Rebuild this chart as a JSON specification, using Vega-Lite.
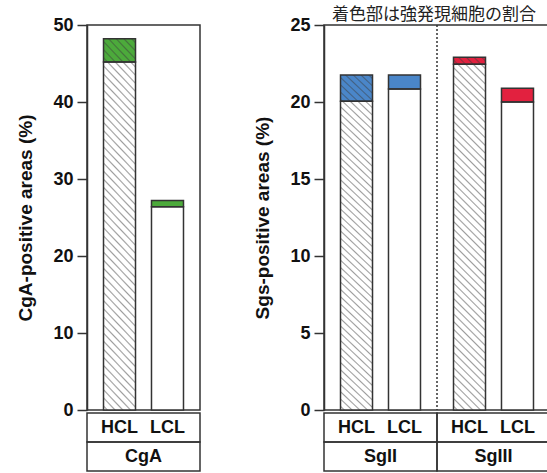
{
  "$schema": "https://vega.github.io/schema/vega-lite/v6.json",
  "background": "white",
  "padding": {"left": 16, "top": 6, "right": 0, "bottom": 0},
  "title": {"text": "着色部は強発現細胞の割合", "font": "Noto Sans CJK JP", "fontSize": 17, "fontWeight": "normal", "color": "#222", "anchor": "start", "frame": "group", "dx": 245, "offset": -9},
  "datasets": {
    "bars": [
      {"group": "CgA", "cl": "HCL", "base": 45.2, "total": 48.2},
      {"group": "CgA", "cl": "LCL", "base": 26.4, "total": 27.2},
      {"group": "SgII", "cl": "HCL", "base": 20.05, "total": 21.75},
      {"group": "SgII", "cl": "LCL", "base": 20.85, "total": 21.75},
      {"group": "SgIII", "cl": "HCL", "base": 22.45, "total": 22.9},
      {"group": "SgIII", "cl": "LCL", "base": 20.0, "total": 20.9}
    ],
    "cells": [
      {"group": "CgA", "row": "r1"}, {"group": "CgA", "row": "r2"},
      {"group": "SgII", "row": "r1"}, {"group": "SgII", "row": "r2"},
      {"group": "SgIII", "row": "r1"}, {"group": "SgIII", "row": "r2"}
    ],
    "lab1": [
      {"group": "CgA", "cl": "HCL", "row": "r1"}, {"group": "CgA", "cl": "LCL", "row": "r1"},
      {"group": "SgII", "cl": "HCL", "row": "r1"}, {"group": "SgII", "cl": "LCL", "row": "r1"},
      {"group": "SgIII", "cl": "HCL", "row": "r1"}, {"group": "SgIII", "cl": "LCL", "row": "r1"}
    ]
  },
  "config": {
    "font": "Liberation Sans",
    "view": {"stroke": "#333", "strokeWidth": 1.5},
    "axisY": {"grid": false, "tickSize": 10, "tickWidth": 1.5, "tickColor": "#333", "domainColor": "#333", "domainWidth": 1.5, "labelFont": "Liberation Sans", "labelFontSize": 18, "labelFontWeight": "bold", "labelColor": "#111", "labelPadding": 4, "titleFont": "Liberation Sans", "titleFontSize": 19, "titleFontWeight": "bold", "titleColor": "#111", "titlePadding": 17}
  },
  "spacing": 52,
  "hconcat": [
    {
      "spacing": 3,
      "bounds": "flush",
      "vconcat": [
        {
          "width": 113, "height": 385,
          "data": {"name": "bars"},
          "transform": [{"filter": "datum.group === 'CgA'"}],
          "layer": [
            {"mark": {"type": "bar", "fill": "white", "strokeWidth": 0},
             "encoding": {
               "x": {"field": "group", "type": "nominal", "axis": null, "scale": {"paddingInner": 0, "paddingOuter": 0}},
               "xOffset": {"field": "cl", "type": "nominal", "scale": {"domain": ["HCL", "LCL"], "paddingInner": 0.333, "paddingOuter": 0.344}},
               "y": {"field": "base", "type": "quantitative", "stack": null, "scale": {"domain": [0, 50], "nice": false}, "axis": {"values": [0, 10, 20, 30, 40, 50]}, "title": "CgA-positive areas (%)"}}},
            {"mark": {"type": "bar", "strokeWidth": 0},
             "encoding": {
               "x": {"field": "group", "type": "nominal", "axis": null, "scale": {"paddingInner": 0, "paddingOuter": 0}},
               "xOffset": {"field": "cl", "type": "nominal", "scale": {"domain": ["HCL", "LCL"], "paddingInner": 0.333, "paddingOuter": 0.344}},
               "y": {"field": "base", "type": "quantitative", "title": "CgA-positive areas (%)"},
               "y2": {"field": "total"},
               "fill": {"field": "group", "type": "nominal", "scale": {"domain": ["CgA", "SgII", "SgIII"], "range": ["#4caa3b", "#4a86c9", "#e2213f"]}, "legend": null}}},
            {"transform": [{"filter": "datum.cl === 'HCL'"}],
             "mark": {"type": "bar", "strokeWidth": 0, "fill": {"gradient": "linear", "x1": 0, "y1": 1, "x2": 0.098, "y2": -0.082, "stops": [
{"offset":0.006,"color":"rgba(60,60,60,0)"},{"offset":0.01,"color":"rgba(60,60,60,0.5)"},{"offset":0.014,"color":"rgba(60,60,60,0)"},
{"offset":0.026,"color":"rgba(60,60,60,0)"},{"offset":0.03,"color":"rgba(60,60,60,0.5)"},{"offset":0.034,"color":"rgba(60,60,60,0)"},
{"offset":0.046,"color":"rgba(60,60,60,0)"},{"offset":0.05,"color":"rgba(60,60,60,0.5)"},{"offset":0.054,"color":"rgba(60,60,60,0)"},
{"offset":0.066,"color":"rgba(60,60,60,0)"},{"offset":0.07,"color":"rgba(60,60,60,0.5)"},{"offset":0.074,"color":"rgba(60,60,60,0)"},
{"offset":0.086,"color":"rgba(60,60,60,0)"},{"offset":0.09,"color":"rgba(60,60,60,0.5)"},{"offset":0.094,"color":"rgba(60,60,60,0)"},
{"offset":0.106,"color":"rgba(60,60,60,0)"},{"offset":0.11,"color":"rgba(60,60,60,0.5)"},{"offset":0.114,"color":"rgba(60,60,60,0)"},
{"offset":0.126,"color":"rgba(60,60,60,0)"},{"offset":0.13,"color":"rgba(60,60,60,0.5)"},{"offset":0.134,"color":"rgba(60,60,60,0)"},
{"offset":0.146,"color":"rgba(60,60,60,0)"},{"offset":0.15,"color":"rgba(60,60,60,0.5)"},{"offset":0.154,"color":"rgba(60,60,60,0)"},
{"offset":0.166,"color":"rgba(60,60,60,0)"},{"offset":0.17,"color":"rgba(60,60,60,0.5)"},{"offset":0.174,"color":"rgba(60,60,60,0)"},
{"offset":0.186,"color":"rgba(60,60,60,0)"},{"offset":0.19,"color":"rgba(60,60,60,0.5)"},{"offset":0.194,"color":"rgba(60,60,60,0)"},
{"offset":0.206,"color":"rgba(60,60,60,0)"},{"offset":0.21,"color":"rgba(60,60,60,0.5)"},{"offset":0.214,"color":"rgba(60,60,60,0)"},
{"offset":0.226,"color":"rgba(60,60,60,0)"},{"offset":0.23,"color":"rgba(60,60,60,0.5)"},{"offset":0.234,"color":"rgba(60,60,60,0)"},
{"offset":0.246,"color":"rgba(60,60,60,0)"},{"offset":0.25,"color":"rgba(60,60,60,0.5)"},{"offset":0.254,"color":"rgba(60,60,60,0)"},
{"offset":0.266,"color":"rgba(60,60,60,0)"},{"offset":0.27,"color":"rgba(60,60,60,0.5)"},{"offset":0.274,"color":"rgba(60,60,60,0)"},
{"offset":0.286,"color":"rgba(60,60,60,0)"},{"offset":0.29,"color":"rgba(60,60,60,0.5)"},{"offset":0.294,"color":"rgba(60,60,60,0)"},
{"offset":0.306,"color":"rgba(60,60,60,0)"},{"offset":0.31,"color":"rgba(60,60,60,0.5)"},{"offset":0.314,"color":"rgba(60,60,60,0)"},
{"offset":0.326,"color":"rgba(60,60,60,0)"},{"offset":0.33,"color":"rgba(60,60,60,0.5)"},{"offset":0.334,"color":"rgba(60,60,60,0)"},
{"offset":0.346,"color":"rgba(60,60,60,0)"},{"offset":0.35,"color":"rgba(60,60,60,0.5)"},{"offset":0.354,"color":"rgba(60,60,60,0)"},
{"offset":0.366,"color":"rgba(60,60,60,0)"},{"offset":0.37,"color":"rgba(60,60,60,0.5)"},{"offset":0.374,"color":"rgba(60,60,60,0)"},
{"offset":0.386,"color":"rgba(60,60,60,0)"},{"offset":0.39,"color":"rgba(60,60,60,0.5)"},{"offset":0.394,"color":"rgba(60,60,60,0)"},
{"offset":0.406,"color":"rgba(60,60,60,0)"},{"offset":0.41,"color":"rgba(60,60,60,0.5)"},{"offset":0.414,"color":"rgba(60,60,60,0)"},
{"offset":0.426,"color":"rgba(60,60,60,0)"},{"offset":0.43,"color":"rgba(60,60,60,0.5)"},{"offset":0.434,"color":"rgba(60,60,60,0)"},
{"offset":0.446,"color":"rgba(60,60,60,0)"},{"offset":0.45,"color":"rgba(60,60,60,0.5)"},{"offset":0.454,"color":"rgba(60,60,60,0)"},
{"offset":0.466,"color":"rgba(60,60,60,0)"},{"offset":0.47,"color":"rgba(60,60,60,0.5)"},{"offset":0.474,"color":"rgba(60,60,60,0)"},
{"offset":0.486,"color":"rgba(60,60,60,0)"},{"offset":0.49,"color":"rgba(60,60,60,0.5)"},{"offset":0.494,"color":"rgba(60,60,60,0)"},
{"offset":0.506,"color":"rgba(60,60,60,0)"},{"offset":0.51,"color":"rgba(60,60,60,0.5)"},{"offset":0.514,"color":"rgba(60,60,60,0)"},
{"offset":0.526,"color":"rgba(60,60,60,0)"},{"offset":0.53,"color":"rgba(60,60,60,0.5)"},{"offset":0.534,"color":"rgba(60,60,60,0)"},
{"offset":0.546,"color":"rgba(60,60,60,0)"},{"offset":0.55,"color":"rgba(60,60,60,0.5)"},{"offset":0.554,"color":"rgba(60,60,60,0)"},
{"offset":0.566,"color":"rgba(60,60,60,0)"},{"offset":0.57,"color":"rgba(60,60,60,0.5)"},{"offset":0.574,"color":"rgba(60,60,60,0)"},
{"offset":0.586,"color":"rgba(60,60,60,0)"},{"offset":0.59,"color":"rgba(60,60,60,0.5)"},{"offset":0.594,"color":"rgba(60,60,60,0)"},
{"offset":0.606,"color":"rgba(60,60,60,0)"},{"offset":0.61,"color":"rgba(60,60,60,0.5)"},{"offset":0.614,"color":"rgba(60,60,60,0)"},
{"offset":0.626,"color":"rgba(60,60,60,0)"},{"offset":0.63,"color":"rgba(60,60,60,0.5)"},{"offset":0.634,"color":"rgba(60,60,60,0)"},
{"offset":0.646,"color":"rgba(60,60,60,0)"},{"offset":0.65,"color":"rgba(60,60,60,0.5)"},{"offset":0.654,"color":"rgba(60,60,60,0)"},
{"offset":0.666,"color":"rgba(60,60,60,0)"},{"offset":0.67,"color":"rgba(60,60,60,0.5)"},{"offset":0.674,"color":"rgba(60,60,60,0)"},
{"offset":0.686,"color":"rgba(60,60,60,0)"},{"offset":0.69,"color":"rgba(60,60,60,0.5)"},{"offset":0.694,"color":"rgba(60,60,60,0)"},
{"offset":0.706,"color":"rgba(60,60,60,0)"},{"offset":0.71,"color":"rgba(60,60,60,0.5)"},{"offset":0.714,"color":"rgba(60,60,60,0)"},
{"offset":0.726,"color":"rgba(60,60,60,0)"},{"offset":0.73,"color":"rgba(60,60,60,0.5)"},{"offset":0.734,"color":"rgba(60,60,60,0)"},
{"offset":0.746,"color":"rgba(60,60,60,0)"},{"offset":0.75,"color":"rgba(60,60,60,0.5)"},{"offset":0.754,"color":"rgba(60,60,60,0)"},
{"offset":0.766,"color":"rgba(60,60,60,0)"},{"offset":0.77,"color":"rgba(60,60,60,0.5)"},{"offset":0.774,"color":"rgba(60,60,60,0)"},
{"offset":0.786,"color":"rgba(60,60,60,0)"},{"offset":0.79,"color":"rgba(60,60,60,0.5)"},{"offset":0.794,"color":"rgba(60,60,60,0)"},
{"offset":0.806,"color":"rgba(60,60,60,0)"},{"offset":0.81,"color":"rgba(60,60,60,0.5)"},{"offset":0.814,"color":"rgba(60,60,60,0)"},
{"offset":0.826,"color":"rgba(60,60,60,0)"},{"offset":0.83,"color":"rgba(60,60,60,0.5)"},{"offset":0.834,"color":"rgba(60,60,60,0)"},
{"offset":0.846,"color":"rgba(60,60,60,0)"},{"offset":0.85,"color":"rgba(60,60,60,0.5)"},{"offset":0.854,"color":"rgba(60,60,60,0)"},
{"offset":0.866,"color":"rgba(60,60,60,0)"},{"offset":0.87,"color":"rgba(60,60,60,0.5)"},{"offset":0.874,"color":"rgba(60,60,60,0)"},
{"offset":0.886,"color":"rgba(60,60,60,0)"},{"offset":0.89,"color":"rgba(60,60,60,0.5)"},{"offset":0.894,"color":"rgba(60,60,60,0)"},
{"offset":0.906,"color":"rgba(60,60,60,0)"},{"offset":0.91,"color":"rgba(60,60,60,0.5)"},{"offset":0.914,"color":"rgba(60,60,60,0)"},
{"offset":0.926,"color":"rgba(60,60,60,0)"},{"offset":0.93,"color":"rgba(60,60,60,0.5)"},{"offset":0.934,"color":"rgba(60,60,60,0)"},
{"offset":0.946,"color":"rgba(60,60,60,0)"},{"offset":0.95,"color":"rgba(60,60,60,0.5)"},{"offset":0.954,"color":"rgba(60,60,60,0)"},
{"offset":0.966,"color":"rgba(60,60,60,0)"},{"offset":0.97,"color":"rgba(60,60,60,0.5)"},{"offset":0.974,"color":"rgba(60,60,60,0)"},
{"offset":0.986,"color":"rgba(60,60,60,0)"},{"offset":0.99,"color":"rgba(60,60,60,0.5)"},{"offset":0.994,"color":"rgba(60,60,60,0)"}
             ]}},
             "encoding": {
               "x": {"field": "group", "type": "nominal", "axis": null, "scale": {"paddingInner": 0, "paddingOuter": 0}},
               "xOffset": {"field": "cl", "type": "nominal", "scale": {"domain": ["HCL", "LCL"], "paddingInner": 0.333, "paddingOuter": 0.344}},
               "y": {"field": "total", "type": "quantitative", "stack": null, "title": "CgA-positive areas (%)"}}},
            {"mark": {"type": "bar", "fillOpacity": 0, "stroke": "#333", "strokeWidth": 1.5},
             "encoding": {
               "x": {"field": "group", "type": "nominal", "axis": null, "scale": {"paddingInner": 0, "paddingOuter": 0}},
               "xOffset": {"field": "cl", "type": "nominal", "scale": {"domain": ["HCL", "LCL"], "paddingInner": 0.333, "paddingOuter": 0.344}},
               "y": {"field": "base", "type": "quantitative", "stack": null, "title": "CgA-positive areas (%)"}}},
            {"mark": {"type": "bar", "fillOpacity": 0, "stroke": "#333", "strokeWidth": 1.5},
             "encoding": {
               "x": {"field": "group", "type": "nominal", "axis": null, "scale": {"paddingInner": 0, "paddingOuter": 0}},
               "xOffset": {"field": "cl", "type": "nominal", "scale": {"domain": ["HCL", "LCL"], "paddingInner": 0.333, "paddingOuter": 0.344}},
               "y": {"field": "base", "type": "quantitative", "title": "CgA-positive areas (%)"},
               "y2": {"field": "total"}}}
          ]
        },
        {
          "width": 113, "height": 58,
          "view": {"stroke": null},
          "layer": [
            {"data": {"name": "cells"}, "transform": [{"filter": "datum.group === 'CgA'"}],
             "mark": {"type": "rect", "fillOpacity": 0, "stroke": "#333", "strokeWidth": 1.5},
             "encoding": {
               "x": {"field": "group", "type": "nominal", "axis": null, "scale": {"paddingInner": 0, "paddingOuter": 0}},
               "y": {"field": "row", "type": "nominal", "axis": null, "scale": {"domain": ["r1", "r2"], "paddingInner": 0, "paddingOuter": 0}}}},
            {"data": {"name": "lab1"}, "transform": [{"filter": "datum.group === 'CgA'"}],
             "mark": {"type": "text", "font": "Liberation Sans", "fontSize": 18, "fontWeight": "bold", "color": "#111"},
             "encoding": {
               "x": {"field": "group", "type": "nominal", "axis": null, "scale": {"paddingInner": 0, "paddingOuter": 0}},
               "xOffset": {"field": "cl", "type": "nominal", "scale": {"domain": ["HCL", "LCL"], "paddingInner": 0.333, "paddingOuter": 0.344}},
               "y": {"field": "row", "type": "nominal", "axis": null, "scale": {"domain": ["r1", "r2"], "paddingInner": 0, "paddingOuter": 0}},
               "text": {"field": "cl"}}},
            {"data": {"name": "cells"}, "transform": [{"filter": "datum.group === 'CgA' && datum.row === 'r2'"}],
             "mark": {"type": "text", "font": "Liberation Sans", "fontSize": 18, "fontWeight": "bold", "color": "#111"},
             "encoding": {
               "x": {"field": "group", "type": "nominal", "axis": null, "scale": {"paddingInner": 0, "paddingOuter": 0}},
               "y": {"field": "row", "type": "nominal", "axis": null, "scale": {"domain": ["r1", "r2"], "paddingInner": 0, "paddingOuter": 0}},
               "text": {"field": "group"}}}
          ]
        }
      ]
    },
    {
      "spacing": 3,
      "bounds": "flush",
      "vconcat": [
        {
          "width": 226, "height": 385,
          "data": {"name": "bars"},
          "transform": [{"filter": "datum.group !== 'CgA'"}],
          "layer": [
            {"mark": {"type": "bar", "fill": "white", "strokeWidth": 0},
             "encoding": {
               "x": {"field": "group", "type": "nominal", "axis": null, "scale": {"paddingInner": 0, "paddingOuter": 0}},
               "xOffset": {"field": "cl", "type": "nominal", "scale": {"domain": ["HCL", "LCL"], "paddingInner": 0.333, "paddingOuter": 0.344}},
               "y": {"field": "base", "type": "quantitative", "stack": null, "scale": {"domain": [0, 25], "nice": false}, "axis": {"values": [0, 5, 10, 15, 20, 25]}, "title": "Sgs-positive areas (%)"}}},
            {"mark": {"type": "bar", "strokeWidth": 0},
             "encoding": {
               "x": {"field": "group", "type": "nominal", "axis": null, "scale": {"paddingInner": 0, "paddingOuter": 0}},
               "xOffset": {"field": "cl", "type": "nominal", "scale": {"domain": ["HCL", "LCL"], "paddingInner": 0.333, "paddingOuter": 0.344}},
               "y": {"field": "base", "type": "quantitative", "title": "Sgs-positive areas (%)"},
               "y2": {"field": "total"},
               "fill": {"field": "group", "type": "nominal", "scale": {"domain": ["CgA", "SgII", "SgIII"], "range": ["#4caa3b", "#4a86c9", "#e2213f"]}, "legend": null}}},
            {"transform": [{"filter": "datum.cl === 'HCL'"}],
             "mark": {"type": "bar", "strokeWidth": 0, "fill": {"gradient": "linear", "x1": 0, "y1": 1, "x2": 0.098, "y2": -0.082, "stops": [
{"offset":0.006,"color":"rgba(60,60,60,0)"},{"offset":0.01,"color":"rgba(60,60,60,0.5)"},{"offset":0.014,"color":"rgba(60,60,60,0)"},
{"offset":0.026,"color":"rgba(60,60,60,0)"},{"offset":0.03,"color":"rgba(60,60,60,0.5)"},{"offset":0.034,"color":"rgba(60,60,60,0)"},
{"offset":0.046,"color":"rgba(60,60,60,0)"},{"offset":0.05,"color":"rgba(60,60,60,0.5)"},{"offset":0.054,"color":"rgba(60,60,60,0)"},
{"offset":0.066,"color":"rgba(60,60,60,0)"},{"offset":0.07,"color":"rgba(60,60,60,0.5)"},{"offset":0.074,"color":"rgba(60,60,60,0)"},
{"offset":0.086,"color":"rgba(60,60,60,0)"},{"offset":0.09,"color":"rgba(60,60,60,0.5)"},{"offset":0.094,"color":"rgba(60,60,60,0)"},
{"offset":0.106,"color":"rgba(60,60,60,0)"},{"offset":0.11,"color":"rgba(60,60,60,0.5)"},{"offset":0.114,"color":"rgba(60,60,60,0)"},
{"offset":0.126,"color":"rgba(60,60,60,0)"},{"offset":0.13,"color":"rgba(60,60,60,0.5)"},{"offset":0.134,"color":"rgba(60,60,60,0)"},
{"offset":0.146,"color":"rgba(60,60,60,0)"},{"offset":0.15,"color":"rgba(60,60,60,0.5)"},{"offset":0.154,"color":"rgba(60,60,60,0)"},
{"offset":0.166,"color":"rgba(60,60,60,0)"},{"offset":0.17,"color":"rgba(60,60,60,0.5)"},{"offset":0.174,"color":"rgba(60,60,60,0)"},
{"offset":0.186,"color":"rgba(60,60,60,0)"},{"offset":0.19,"color":"rgba(60,60,60,0.5)"},{"offset":0.194,"color":"rgba(60,60,60,0)"},
{"offset":0.206,"color":"rgba(60,60,60,0)"},{"offset":0.21,"color":"rgba(60,60,60,0.5)"},{"offset":0.214,"color":"rgba(60,60,60,0)"},
{"offset":0.226,"color":"rgba(60,60,60,0)"},{"offset":0.23,"color":"rgba(60,60,60,0.5)"},{"offset":0.234,"color":"rgba(60,60,60,0)"},
{"offset":0.246,"color":"rgba(60,60,60,0)"},{"offset":0.25,"color":"rgba(60,60,60,0.5)"},{"offset":0.254,"color":"rgba(60,60,60,0)"},
{"offset":0.266,"color":"rgba(60,60,60,0)"},{"offset":0.27,"color":"rgba(60,60,60,0.5)"},{"offset":0.274,"color":"rgba(60,60,60,0)"},
{"offset":0.286,"color":"rgba(60,60,60,0)"},{"offset":0.29,"color":"rgba(60,60,60,0.5)"},{"offset":0.294,"color":"rgba(60,60,60,0)"},
{"offset":0.306,"color":"rgba(60,60,60,0)"},{"offset":0.31,"color":"rgba(60,60,60,0.5)"},{"offset":0.314,"color":"rgba(60,60,60,0)"},
{"offset":0.326,"color":"rgba(60,60,60,0)"},{"offset":0.33,"color":"rgba(60,60,60,0.5)"},{"offset":0.334,"color":"rgba(60,60,60,0)"},
{"offset":0.346,"color":"rgba(60,60,60,0)"},{"offset":0.35,"color":"rgba(60,60,60,0.5)"},{"offset":0.354,"color":"rgba(60,60,60,0)"},
{"offset":0.366,"color":"rgba(60,60,60,0)"},{"offset":0.37,"color":"rgba(60,60,60,0.5)"},{"offset":0.374,"color":"rgba(60,60,60,0)"},
{"offset":0.386,"color":"rgba(60,60,60,0)"},{"offset":0.39,"color":"rgba(60,60,60,0.5)"},{"offset":0.394,"color":"rgba(60,60,60,0)"},
{"offset":0.406,"color":"rgba(60,60,60,0)"},{"offset":0.41,"color":"rgba(60,60,60,0.5)"},{"offset":0.414,"color":"rgba(60,60,60,0)"},
{"offset":0.426,"color":"rgba(60,60,60,0)"},{"offset":0.43,"color":"rgba(60,60,60,0.5)"},{"offset":0.434,"color":"rgba(60,60,60,0)"},
{"offset":0.446,"color":"rgba(60,60,60,0)"},{"offset":0.45,"color":"rgba(60,60,60,0.5)"},{"offset":0.454,"color":"rgba(60,60,60,0)"},
{"offset":0.466,"color":"rgba(60,60,60,0)"},{"offset":0.47,"color":"rgba(60,60,60,0.5)"},{"offset":0.474,"color":"rgba(60,60,60,0)"},
{"offset":0.486,"color":"rgba(60,60,60,0)"},{"offset":0.49,"color":"rgba(60,60,60,0.5)"},{"offset":0.494,"color":"rgba(60,60,60,0)"},
{"offset":0.506,"color":"rgba(60,60,60,0)"},{"offset":0.51,"color":"rgba(60,60,60,0.5)"},{"offset":0.514,"color":"rgba(60,60,60,0)"},
{"offset":0.526,"color":"rgba(60,60,60,0)"},{"offset":0.53,"color":"rgba(60,60,60,0.5)"},{"offset":0.534,"color":"rgba(60,60,60,0)"},
{"offset":0.546,"color":"rgba(60,60,60,0)"},{"offset":0.55,"color":"rgba(60,60,60,0.5)"},{"offset":0.554,"color":"rgba(60,60,60,0)"},
{"offset":0.566,"color":"rgba(60,60,60,0)"},{"offset":0.57,"color":"rgba(60,60,60,0.5)"},{"offset":0.574,"color":"rgba(60,60,60,0)"},
{"offset":0.586,"color":"rgba(60,60,60,0)"},{"offset":0.59,"color":"rgba(60,60,60,0.5)"},{"offset":0.594,"color":"rgba(60,60,60,0)"},
{"offset":0.606,"color":"rgba(60,60,60,0)"},{"offset":0.61,"color":"rgba(60,60,60,0.5)"},{"offset":0.614,"color":"rgba(60,60,60,0)"},
{"offset":0.626,"color":"rgba(60,60,60,0)"},{"offset":0.63,"color":"rgba(60,60,60,0.5)"},{"offset":0.634,"color":"rgba(60,60,60,0)"},
{"offset":0.646,"color":"rgba(60,60,60,0)"},{"offset":0.65,"color":"rgba(60,60,60,0.5)"},{"offset":0.654,"color":"rgba(60,60,60,0)"},
{"offset":0.666,"color":"rgba(60,60,60,0)"},{"offset":0.67,"color":"rgba(60,60,60,0.5)"},{"offset":0.674,"color":"rgba(60,60,60,0)"},
{"offset":0.686,"color":"rgba(60,60,60,0)"},{"offset":0.69,"color":"rgba(60,60,60,0.5)"},{"offset":0.694,"color":"rgba(60,60,60,0)"},
{"offset":0.706,"color":"rgba(60,60,60,0)"},{"offset":0.71,"color":"rgba(60,60,60,0.5)"},{"offset":0.714,"color":"rgba(60,60,60,0)"},
{"offset":0.726,"color":"rgba(60,60,60,0)"},{"offset":0.73,"color":"rgba(60,60,60,0.5)"},{"offset":0.734,"color":"rgba(60,60,60,0)"},
{"offset":0.746,"color":"rgba(60,60,60,0)"},{"offset":0.75,"color":"rgba(60,60,60,0.5)"},{"offset":0.754,"color":"rgba(60,60,60,0)"},
{"offset":0.766,"color":"rgba(60,60,60,0)"},{"offset":0.77,"color":"rgba(60,60,60,0.5)"},{"offset":0.774,"color":"rgba(60,60,60,0)"},
{"offset":0.786,"color":"rgba(60,60,60,0)"},{"offset":0.79,"color":"rgba(60,60,60,0.5)"},{"offset":0.794,"color":"rgba(60,60,60,0)"},
{"offset":0.806,"color":"rgba(60,60,60,0)"},{"offset":0.81,"color":"rgba(60,60,60,0.5)"},{"offset":0.814,"color":"rgba(60,60,60,0)"},
{"offset":0.826,"color":"rgba(60,60,60,0)"},{"offset":0.83,"color":"rgba(60,60,60,0.5)"},{"offset":0.834,"color":"rgba(60,60,60,0)"},
{"offset":0.846,"color":"rgba(60,60,60,0)"},{"offset":0.85,"color":"rgba(60,60,60,0.5)"},{"offset":0.854,"color":"rgba(60,60,60,0)"},
{"offset":0.866,"color":"rgba(60,60,60,0)"},{"offset":0.87,"color":"rgba(60,60,60,0.5)"},{"offset":0.874,"color":"rgba(60,60,60,0)"},
{"offset":0.886,"color":"rgba(60,60,60,0)"},{"offset":0.89,"color":"rgba(60,60,60,0.5)"},{"offset":0.894,"color":"rgba(60,60,60,0)"},
{"offset":0.906,"color":"rgba(60,60,60,0)"},{"offset":0.91,"color":"rgba(60,60,60,0.5)"},{"offset":0.914,"color":"rgba(60,60,60,0)"},
{"offset":0.926,"color":"rgba(60,60,60,0)"},{"offset":0.93,"color":"rgba(60,60,60,0.5)"},{"offset":0.934,"color":"rgba(60,60,60,0)"},
{"offset":0.946,"color":"rgba(60,60,60,0)"},{"offset":0.95,"color":"rgba(60,60,60,0.5)"},{"offset":0.954,"color":"rgba(60,60,60,0)"},
{"offset":0.966,"color":"rgba(60,60,60,0)"},{"offset":0.97,"color":"rgba(60,60,60,0.5)"},{"offset":0.974,"color":"rgba(60,60,60,0)"},
{"offset":0.986,"color":"rgba(60,60,60,0)"},{"offset":0.99,"color":"rgba(60,60,60,0.5)"},{"offset":0.994,"color":"rgba(60,60,60,0)"}
             ]}},
             "encoding": {
               "x": {"field": "group", "type": "nominal", "axis": null, "scale": {"paddingInner": 0, "paddingOuter": 0}},
               "xOffset": {"field": "cl", "type": "nominal", "scale": {"domain": ["HCL", "LCL"], "paddingInner": 0.333, "paddingOuter": 0.344}},
               "y": {"field": "total", "type": "quantitative", "stack": null, "title": "Sgs-positive areas (%)"}}},
            {"mark": {"type": "bar", "fillOpacity": 0, "stroke": "#333", "strokeWidth": 1.5},
             "encoding": {
               "x": {"field": "group", "type": "nominal", "axis": null, "scale": {"paddingInner": 0, "paddingOuter": 0}},
               "xOffset": {"field": "cl", "type": "nominal", "scale": {"domain": ["HCL", "LCL"], "paddingInner": 0.333, "paddingOuter": 0.344}},
               "y": {"field": "base", "type": "quantitative", "stack": null, "title": "Sgs-positive areas (%)"}}},
            {"mark": {"type": "bar", "fillOpacity": 0, "stroke": "#333", "strokeWidth": 1.5},
             "encoding": {
               "x": {"field": "group", "type": "nominal", "axis": null, "scale": {"paddingInner": 0, "paddingOuter": 0}},
               "xOffset": {"field": "cl", "type": "nominal", "scale": {"domain": ["HCL", "LCL"], "paddingInner": 0.333, "paddingOuter": 0.344}},
               "y": {"field": "base", "type": "quantitative", "title": "Sgs-positive areas (%)"},
               "y2": {"field": "total"}}},
            {"transform": [{"filter": "datum.group === 'SgIII' && datum.cl === 'HCL'"}],
             "mark": {"type": "rule", "strokeDash": [2, 2], "color": "#333", "strokeWidth": 1.5},
             "encoding": {
               "x": {"field": "group", "type": "nominal", "axis": null, "bandPosition": 0, "scale": {"paddingInner": 0, "paddingOuter": 0}}}}
          ]
        },
        {
          "width": 226, "height": 58,
          "view": {"stroke": null},
          "layer": [
            {"data": {"name": "cells"}, "transform": [{"filter": "datum.group !== 'CgA'"}],
             "mark": {"type": "rect", "fillOpacity": 0, "stroke": "#333", "strokeWidth": 1.5},
             "encoding": {
               "x": {"field": "group", "type": "nominal", "axis": null, "scale": {"paddingInner": 0, "paddingOuter": 0}},
               "y": {"field": "row", "type": "nominal", "axis": null, "scale": {"domain": ["r1", "r2"], "paddingInner": 0, "paddingOuter": 0}}}},
            {"data": {"name": "lab1"}, "transform": [{"filter": "datum.group !== 'CgA'"}],
             "mark": {"type": "text", "font": "Liberation Sans", "fontSize": 18, "fontWeight": "bold", "color": "#111"},
             "encoding": {
               "x": {"field": "group", "type": "nominal", "axis": null, "scale": {"paddingInner": 0, "paddingOuter": 0}},
               "xOffset": {"field": "cl", "type": "nominal", "scale": {"domain": ["HCL", "LCL"], "paddingInner": 0.333, "paddingOuter": 0.344}},
               "y": {"field": "row", "type": "nominal", "axis": null, "scale": {"domain": ["r1", "r2"], "paddingInner": 0, "paddingOuter": 0}},
               "text": {"field": "cl"}}},
            {"data": {"name": "cells"}, "transform": [{"filter": "datum.group !== 'CgA' && datum.row === 'r2'"}],
             "mark": {"type": "text", "font": "Liberation Sans", "fontSize": 18, "fontWeight": "bold", "color": "#111"},
             "encoding": {
               "x": {"field": "group", "type": "nominal", "axis": null, "scale": {"paddingInner": 0, "paddingOuter": 0}},
               "y": {"field": "row", "type": "nominal", "axis": null, "scale": {"domain": ["r1", "r2"], "paddingInner": 0, "paddingOuter": 0}},
               "text": {"field": "group"}}}
          ]
        }
      ]
    }
  ]
}
